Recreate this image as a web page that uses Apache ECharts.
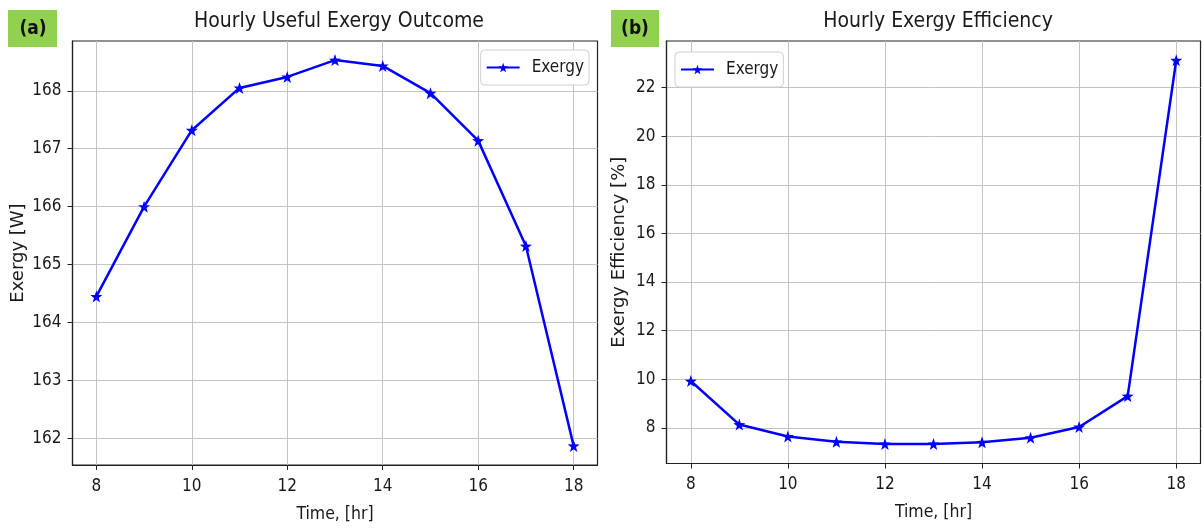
<!DOCTYPE html>
<html>
<head>
    <meta charset="UTF-8">
    <title>Hourly Exergy</title>
    <script src="https://cdn.jsdelivr.net/npm/echarts@6/dist/echarts.min.js"></script>
    <style>
        html, body { margin: 0; padding: 0; background: #fff; }
        #main { width: 1202px; height: 528px; }
    </style>
</head>
<body>
<div id="main"></div>
<script type="text/javascript">
    // hours of the day
    var hours = [8, 9, 10, 11, 12, 13, 14, 15, 16, 17, 18];
    // (a) useful exergy outcome [W]
    var exergy = [164.45, 166.0, 167.32, 168.05, 168.24, 168.53, 168.43, 167.96, 167.14, 165.32, 161.87];
    // (b) exergy efficiency [%]
    var efficiency = [9.93, 8.14, 7.65, 7.43, 7.34, 7.34, 7.41, 7.60, 8.04, 9.31, 23.12];
    // tick labels
    var xTicks = [8, 10, 12, 14, 16, 18];
    var yTicksA = [162, 163, 164, 165, 166, 167, 168];
    var yTicksB = [8, 10, 12, 14, 16, 18, 20, 22];

    var FONT = 'DejaVu Sans Condensed';
    var STAR = 'path://M0,-10L2.35,-3.24L9.51,-3.09L3.8,1.24L5.88,8.09L0,4L-5.88,8.09L-3.8,1.24L-9.51,-3.09L-2.35,-3.24Z';

    function pairs(xs, ys) {
        var out = [];
        for (var i = 0; i < xs.length; i++) {
            out.push([xs[i], ys[i]]);
        }
        return out;
    }

    function xAxisFor(idx) {
        return {
            type: 'value', gridIndex: idx, min: 7.5, max: 18.5,
            name: 'Time, [hr]', nameLocation: 'middle', nameGap: 40,
            nameTextStyle: {fontFamily: FONT, fontSize: 17.5, color: '#1a1a1a'},
            axisLine: {lineStyle: {color: '#222', width: 1.2}},
            axisTick: {show: true, length: 5, customValues: xTicks, lineStyle: {color: '#222'}},
            axisLabel: {customValues: xTicks, fontFamily: FONT, fontSize: 17, color: '#1a1a1a', margin: 13},
            splitLine: {show: true, lineStyle: {color: '#c4c4c4', width: 1}}
        };
    }

    function yAxisFor(idx, min, max, ticks, name) {
        return {
            type: 'value', gridIndex: idx, min: min, max: max,
            name: name, nameLocation: 'middle', nameGap: idx === 0 ? 45 : 38, nameRotate: 90,
            nameTextStyle: {fontFamily: 'DejaVu Sans', fontSize: 18, color: '#1a1a1a'},
            axisLine: {show: true, lineStyle: {color: '#222', width: 1.2}},
            axisTick: {show: true, length: 5, customValues: ticks, lineStyle: {color: '#222'}},
            axisLabel: {customValues: ticks, fontFamily: FONT, fontSize: 17, color: '#1a1a1a', margin: 11},
            splitLine: {show: true, lineStyle: {color: '#c4c4c4', width: 1}}
        };
    }

    function lineSeries(idx, ys) {
        return {
            name: 'Exergy', type: 'line', xAxisIndex: idx, yAxisIndex: idx,
            data: pairs(hours, ys),
            symbol: STAR, symbolSize: 12, showAllSymbol: true,
            lineStyle: {color: '#0000ff', width: 2.5},
            itemStyle: {color: '#0000ff'},
            animation: false
        };
    }

    var legendBase = {
        data: ['Exergy'],
        orient: 'vertical',
        backgroundColor: '#fff',
        borderColor: '#d0d0d0',
        borderWidth: 1,
        borderRadius: 4,
        padding: [9, 5, 9, 5],
        itemWidth: 33,
        itemHeight: 12,
        textStyle: {fontFamily: FONT, fontSize: 17, color: '#1a1a1a', padding: [0, 0, 0, 7]}
    };

    var chart = echarts.init(document.getElementById('main'));
    chart.setOption({
        backgroundColor: '#fff',
        animation: false,
        title: [
            {text: 'Hourly Useful Exergy Outcome', left: 334, top: 6, textAlign: 'center',
                textStyle: {fontFamily: FONT, fontSize: 21, fontWeight: 'normal', color: '#1a1a1a'}},
            {text: 'Hourly Exergy Efficiency', left: 933, top: 6, textAlign: 'center',
                textStyle: {fontFamily: FONT, fontSize: 21, fontWeight: 'normal', color: '#1a1a1a'}}
        ],
        legend: [
            Object.assign({}, legendBase, {right: 613, top: 50}),
            Object.assign({}, legendBase, {left: 675, top: 52})
        ],
        grid: [
            {left: 72.5, top: 41, width: 525, height: 426.5, show: true, borderColor: '#222', borderWidth: 1.2, backgroundColor: 'transparent'},
            {left: 666.5, top: 41, width: 534, height: 422.5, show: true, borderColor: '#222', borderWidth: 1.2, backgroundColor: 'transparent'}
        ],
        xAxis: [xAxisFor(0), xAxisFor(1)],
        yAxis: [
            yAxisFor(0, 161.54, 168.86, yTicksA, 'Exergy [W]'),
            yAxisFor(1, 6.54, 23.91, yTicksB, 'Exergy Efficiency [%]')
        ],
        series: [lineSeries(0, exergy), lineSeries(1, efficiency)],
        graphic: [
            {type: 'rect', left: 8, top: 10, shape: {width: 49, height: 37}, style: {fill: '#92d050'}},
            {type: 'text', x: 33, y: 29, style: {text: '(a)', font: 'bold 19px "DejaVu Sans Condensed"', fill: '#111', align: 'center', verticalAlign: 'middle'}},
            {type: 'rect', left: 611, top: 10, shape: {width: 48, height: 37}, style: {fill: '#92d050'}},
            {type: 'text', x: 635, y: 29, style: {text: '(b)', font: 'bold 19px "DejaVu Sans Condensed"', fill: '#111', align: 'center', verticalAlign: 'middle'}}
        ]
    });
</script>
</body>
</html>
